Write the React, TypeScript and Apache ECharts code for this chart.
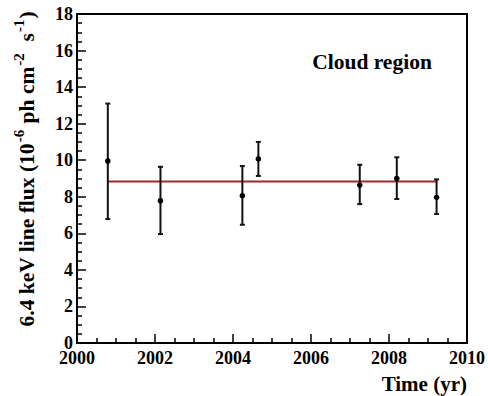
import React, { useEffect, useRef } from "react";
import * as echarts from "echarts";

const years = [2000.79, 2002.14, 2004.24, 2004.65, 2007.25, 2008.2, 2009.22];
const flux = [9.96, 7.78, 8.06, 10.07, 8.64, 9.0, 7.97];
const fluxLow = [6.78, 5.96, 6.47, 9.14, 7.6, 7.88, 7.06];
const fluxHigh = [13.1, 9.64, 9.68, 11.0, 9.75, 10.16, 8.95];
const fitValue = 8.83;
const fitRange = [2000.79, 2009.22];

const FONT = "Liberation Serif";

export default function App() {
  const ref = useRef<HTMLDivElement>(null);
  useEffect(() => {
    if (!ref.current) return;
    const chart = echarts.init(ref.current, null, { renderer: "svg" });
    const points = years.map((x, i) => [x, flux[i], fluxLow[i], fluxHigh[i]]);
    const option = {
      animation: false,
      backgroundColor: "#ffffff",
      grid: {
        left: 77,
        right: 20,
        top: 14,
        bottom: 53,
        show: true,
        borderColor: "#000",
        borderWidth: 2,
        backgroundColor: "transparent",
      },
      xAxis: {
        type: "value",
        min: 2000,
        max: 2010,
        interval: 2,
        axisLine: { lineStyle: { color: "#000", width: 2 } },
        axisTick: { inside: true, length: 9, lineStyle: { color: "#000", width: 1.5 } },
        minorTick: { show: true, splitNumber: 4, length: 5, lineStyle: { color: "#000", width: 1.5 } },
        splitLine: { show: false },
        axisLabel: {
          color: "#000",
          fontFamily: FONT,
          fontWeight: "bold",
          fontSize: 18,
          margin: 6,
          showMinLabel: true,
          showMaxLabel: true,
          formatter: (v: number) => String(v),
        },
      },
      yAxis: {
        type: "value",
        min: 0,
        max: 18,
        interval: 2,
        axisLine: { show: true, lineStyle: { color: "#000", width: 2 } },
        axisTick: { show: true, inside: true, length: 9, lineStyle: { color: "#000", width: 1.5 } },
        minorTick: { show: true, splitNumber: 4, length: 5, lineStyle: { color: "#000", width: 1.5 } },
        splitLine: { show: false },
        axisLabel: {
          color: "#000",
          fontFamily: FONT,
          fontWeight: "bold",
          fontSize: 18,
          margin: 4,
        },
      },
      series: [
        {
          type: "line",
          data: fitRange.map((x) => [x, fitValue]),
          symbol: "none",
          lineStyle: { color: "#9e2a2b", width: 2 },
          z: 2,
        },
        {
          type: "custom",
          data: points,
          z: 3,
          renderItem: (params: any, api: any) => {
            const x = api.value(0);
            const c = api.coord([x, api.value(1)]);
            const lo = api.coord([x, api.value(2)]);
            const hi = api.coord([x, api.value(3)]);
            const st = { stroke: "#111", lineWidth: 2 };
            return {
              type: "group",
              children: [
                { type: "line", shape: { x1: lo[0], y1: lo[1], x2: hi[0], y2: hi[1] }, style: st },
                { type: "line", shape: { x1: lo[0] - 2.5, y1: lo[1], x2: lo[0] + 2.5, y2: lo[1] }, style: st },
                { type: "line", shape: { x1: hi[0] - 2.5, y1: hi[1], x2: hi[0] + 2.5, y2: hi[1] }, style: st },
                { type: "circle", shape: { cx: c[0], cy: c[1], r: 2.8 }, style: { fill: "#000" } },
              ],
            };
          },
        },
      ],
      graphic: [
        {
          type: "text",
          x: 372,
          y: 62,
          style: {
            text: "Cloud region",
            fontFamily: FONT,
            fontWeight: "bold",
            fontSize: 21.5,
            fill: "#000",
            align: "center",
            verticalAlign: "middle",
          },
        },
        {
          type: "text",
          x: 467,
          y: 384,
          style: {
            text: "Time (yr)",
            fontFamily: FONT,
            fontWeight: "bold",
            fontSize: 21,
            fill: "#000",
            align: "right",
            verticalAlign: "middle",
          },
        },
        {
          type: "text",
          x: 27,
          y: 169,
          rotation: Math.PI / 2,
          style: {
            text: "{n|6.4 keV line flux (10}{s|-6}{n| ph cm}{s|-2}{n|  s}{s|-1}{n|)}",
            align: "center",
            verticalAlign: "middle",
            fill: "#000",
            rich: {
              n: { fontFamily: FONT, fontWeight: "bold", fontSize: 21.5, fill: "#000", lineHeight: 26 },
              s: {
                fontFamily: FONT,
                fontWeight: "bold",
                fontSize: 15,
                fill: "#000",
                lineHeight: 26,
                padding: [0, 1, 16, 1],
              },
            },
          },
        },
      ],
    };
    chart.setOption(option as any);
    return () => chart.dispose();
  }, []);
  return (
    <div
      ref={ref}
      style={{ position: "fixed", left: 0, top: 0, width: 488, height: 396, background: "#fff" }}
    />
  );
}
